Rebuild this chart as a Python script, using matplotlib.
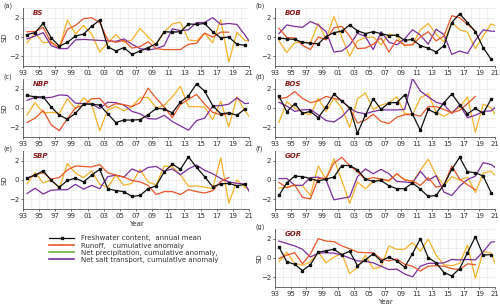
import numpy as np
import matplotlib
matplotlib.use("Agg")
import matplotlib.pyplot as plt
from matplotlib.lines import Line2D

panel_names = ["BS", "BOB", "NBP", "BOS", "SBP", "GOF", "GOR"]
panel_letters = ["(a)", "(b)", "(c)", "(d)", "(e)", "(f)", "(g)"]

fw_years = np.arange(1993.5, 2021.0, 1.0)      # 28 annual means
ro_years = np.arange(1993.5, 2019.0, 1.0)      # 26 values
ps_years = np.arange(1993.5, 2022.0, 1.0)      # 29 values

fw = {
    "BS":  [0.25, 0.45, 1.4, -0.1, -0.95, -0.55, 0.1, 0.3, 1.1, 1.75, -1.0, -1.45, -1.1, -1.8, -1.45, -1.1, -0.7, 0.55, 0.5, 0.55, 1.35, 1.3, 1.4, 0.55, -0.1, 0.0, -0.75, -0.85],
    "BOB": [-0.1, -0.2, -0.25, -0.55, -0.65, -0.7, 0.05, 0.45, 0.6, 1.25, 0.65, 0.35, 0.55, 0.35, 0.15, 0.2, -0.35, -0.25, -0.9, -1.15, -1.55, -0.9, 1.5, 2.4, 1.5, 0.55, -1.1, -2.3],
    "NBP": [1.3, 1.15, 1.15, 0.1, -0.75, -1.15, -0.55, 0.4, 0.4, 0.3, -0.6, -1.5, -1.25, -1.25, -1.2, -0.7, -0.05, -0.1, -0.5, 0.6, 1.25, 2.5, 1.75, 0.25, -0.6, -0.5, -0.75, -0.1],
    "BOS": [1.25, -0.4, 0.45, -0.55, -0.35, -1.0, 0.1, 1.45, 0.7, 0.05, -2.6, -0.75, 0.95, -0.15, 0.55, 0.55, 1.35, -0.65, -2.3, -0.15, -0.55, 0.55, 1.45, 0.35, -0.6, -0.05, -0.55, 0.9],
    "SBP": [0.2, 0.5, 0.95, -0.05, -0.75, -0.05, 0.2, -0.2, 0.5, 1.1, -0.9, -1.1, -1.2, -1.7, -1.6, -0.9, -0.6, 0.85, 1.65, 1.1, 2.4, 1.3, 0.35, -0.7, -0.4, -0.35, -0.6, -0.45],
    "GOF": [-1.6, -0.3, 0.4, 0.35, 0.15, -0.1, 0.1, 0.3, 1.5, 1.5, 1.05, 0.1, -0.15, -0.05, -0.6, -0.9, -0.9, -0.3, -0.95, -1.7, -1.6, -0.5, 1.1, 2.35, 0.85, 0.75, 0.4, -1.3],
    "GOR": [1.15, -0.4, -0.65, -1.3, -0.7, 0.6, 0.75, 0.9, 0.35, 0.7, -0.8, -0.2, 0.45, -0.3, 0.1, -0.3, -0.95, 0.45, 2.0, 0.05, -0.5, -1.5, -1.85, -1.1, 0.55, 2.2, 0.3, 0.35],
}
runoff = {
    "BS":  [0.55, 0.55, 1.0, -0.6, -1.1, 0.8, 1.2, 1.9, 2.0, 1.5, -0.3, -0.55, -0.35, -1.15, -1.0, -0.5, -1.2, -1.3, -1.3, -1.3, -0.75, -0.65, 0.4, 0.0, 0.5, 0.5],
    "BOB": [0.9, -0.05, -0.1, -0.85, -1.3, 0.0, -0.3, 0.95, 1.1, 0.1, -1.2, -1.15, -0.75, -0.1, -1.55, -0.3, -0.85, -0.8, 0.0, 0.55, -0.4, 0.1, 2.2, 2.0, 1.3, 0.6],
    "NBP": [-1.5, -1.05, -0.25, -1.75, -2.35, -1.1, 0.0, 0.3, 0.95, 1.0, 0.05, 0.45, 0.35, 0.15, 0.55, 2.05, 1.0, 0.1, -1.0, 0.35, 0.9, 1.4, 0.4, -0.45, -0.7, -0.6],
    "BOS": [0.95, 1.1, 1.7, 1.0, 0.55, 0.75, 1.2, 1.0, 0.8, -0.05, -1.55, -1.25, -0.65, -1.4, -1.6, -0.95, -0.7, -0.65, -0.85, 0.15, 0.15, -0.15, -0.5, -0.25, 0.45, 1.2],
    "SBP": [0.15, 0.55, 0.75, 0.1, 0.25, 1.05, 1.45, 1.4, 1.35, 1.6, 0.75, 0.5, 0.3, -0.05, -0.2, -0.55, -1.5, -1.2, -1.2, -1.5, -1.0, -1.2, -1.35, -1.1, -0.15, 0.25],
    "GOF": [-0.25, -0.8, -0.5, -1.8, -1.95, 0.15, 0.2, 1.75, 2.35, 1.5, 0.85, 0.05, 0.25, 0.1, -0.05, 0.65, 0.0, -0.1, -0.55, 0.25, -0.75, -0.55, 1.45, 0.1, -0.5, -1.0],
    "GOR": [-0.05, 0.3, 0.55, -0.6, 0.4, 2.0, 1.75, 1.7, 1.25, 0.95, 0.6, 0.55, 0.55, -0.1, -0.3, -0.1, -0.65, -0.85, -1.35, -0.85, -0.8, -0.85, -1.1, -1.2, -0.6, -0.7],
}
precip = {
    "BS":  [-0.6, 0.4, -0.6, -0.5, -1.1, 1.75, 0.3, 1.2, 0.3, -1.55, -0.6, 0.25, -0.55, -0.3, 0.9, 0.0, -0.8, 0.5, 1.35, 1.55, -0.3, -0.4, 0.4, -0.6, 1.8, -2.6, 0.5, -0.35, -0.45],
    "BOB": [-0.4, -1.6, -0.6, -0.5, -0.6, 1.4, -0.2, 2.1, 0.0, -2.0, -0.4, -0.05, 0.0, -0.8, 0.3, 0.1, -0.9, -0.8, 0.75, 1.4, 0.3, -0.5, 1.5, 0.75, 0.5, -1.2, 0.1, 1.35, 1.05],
    "NBP": [-0.7, 0.55, -0.5, -0.45, -0.55, 0.95, -0.1, 1.05, 0.4, -2.35, -0.2, 0.15, -0.3, 0.15, 1.05, 1.1, 0.0, 0.3, 1.15, 2.25, 0.15, 0.15, 0.1, -1.2, 0.7, -1.95, 1.15, -0.3, -1.4],
    "BOS": [-1.5, 0.65, 0.0, -0.45, -0.7, 1.0, -0.35, 1.0, 0.0, -2.0, 0.95, 1.55, -0.15, 0.3, 0.55, 1.15, -0.55, -0.7, 1.05, 1.5, -0.45, -0.85, -0.4, 0.05, 1.15, -2.5, 0.4, 0.0, -1.3],
    "SBP": [-0.4, 0.75, -0.3, 0.0, -0.85, 1.7, 0.7, 0.25, 0.95, -0.45, -0.75, 0.5, -0.55, -0.35, 1.1, -0.2, -0.5, 1.45, 1.35, 0.55, -0.65, -0.6, -0.75, -0.9, 2.3, -2.4, 0.0, -0.75, -1.25],
    "GOF": [-0.85, -0.75, -0.55, -0.6, -1.6, 1.45, 0.05, 2.2, -0.05, -2.4, -0.2, -0.9, -0.15, 0.1, -0.15, 0.65, 0.05, -0.2, 1.0, 2.15, 0.5, -0.55, 0.35, 0.0, 0.3, -1.3, 0.7, 0.9, 0.1],
    "GOR": [-0.4, 0.6, -0.55, -0.75, -0.4, 0.6, -0.5, 0.1, 0.45, -1.6, -1.0, 0.3, -1.1, -0.9, 1.25, 0.9, 0.9, 1.6, 0.7, 1.95, 0.3, -0.7, -0.8, -0.55, 1.35, -2.1, 0.7, 0.5, -1.6],
}
salt = {
    "BS":  [-0.2, 0.1, 0.45, -0.9, -1.2, -1.2, -0.3, -0.25, -0.3, -0.35, -0.4, -0.45, -0.2, -0.75, -1.2, -1.35, -1.2, -0.9, 0.85, 0.65, 0.75, 1.5, 1.5, 2.0, 1.3, 1.4, 1.3, 0.2, -1.0],
    "BOB": [0.35, 1.25, 1.1, 1.0, 1.6, 1.25, 0.55, -1.55, -1.45, -0.85, 0.4, 0.05, -1.3, 0.55, -0.55, -0.8, -0.2, 0.75, 0.2, -0.75, 0.8, 0.25, -1.8, -1.45, -1.7, -0.35, 0.75, 0.6, 0.6],
    "NBP": [0.8, 1.1, 1.05, 1.1, 1.35, 1.3, 0.5, 0.45, 0.4, -0.05, 0.6, 0.55, 0.3, -0.35, -0.6, -1.1, -1.15, -0.75, -1.4, -1.85, -2.3, -1.3, -1.05, 0.2, 0.25, 0.4, 1.05, 0.45, 0.55],
    "BOS": [0.6, 0.2, -0.35, -0.2, -0.15, -0.7, -1.3, -1.45, -0.9, -0.05, -0.45, -0.6, -0.35, -0.2, -0.2, -0.2, -0.15, 3.05, 1.75, 1.15, 0.6, 0.35, -0.55, 0.3, -1.0, -0.75, -0.35, -0.3, 0.4],
    "SBP": [-1.4, -0.85, -1.45, -1.05, -1.0, -1.0, -0.45, -0.95, -0.55, -0.9, 0.35, 0.5, 0.3, 1.15, 0.8, 1.3, 1.4, 0.9, 1.15, 0.55, 1.15, 1.55, 1.0, 0.65, 0.15, -0.2, -0.35, -0.4, -1.9],
    "GOF": [0.15, 0.15, -0.55, -0.55, 0.25, 0.3, 0.0, -2.05, -1.9, -1.75, 0.35, 1.15, 0.65, 1.1, 0.65, -0.15, -0.2, -0.3, 0.9, -0.05, 0.45, -1.25, -1.6, -0.65, 0.05, 0.4, 1.8, 1.6, 1.0],
    "GOR": [1.75, 1.5, 1.25, 0.9, 0.1, 0.5, 0.55, 0.5, 0.3, 0.0, -0.3, -0.35, -0.5, -0.85, -1.2, -1.15, -1.65, -1.95, -0.85, -0.55, -0.55, -0.5, -0.15, -0.2, -0.15, -0.2, 0.65, 1.65, 1.7],
}

xtick_years = list(range(1993, 2022, 2))
xtick_labels = [f"{y % 100:02d}" for y in xtick_years]
legend_labels = ["Freshwater content,  annual mean",
                 "Runoff,   cumulative anomaly",
                 "Net precipitation, cumulative anomaly,",
                 "Net salt transport, cumulative anomaly"]

C_FW = "#111111"
C_RO = "#e8572a"
C_PR = "#f5b12a"
C_SA = "#7b2e9c"
C_PR_LEG = "#6db33f"
C_NAME = "#8b1a1a"

plt.rcParams["font.family"] = ["DejaVu Sans"]
fig = plt.figure(figsize=(5.0, 3.07), dpi=100)

W, H = 500.0, 307.0
col_x = [(23, 249), (275, 495)]
row_y = [(8, 66), (79, 137), (151, 209), (229, 287)]
positions = [(0, 0), (1, 0), (0, 1), (1, 1), (0, 2), (1, 2), (1, 3)]

FS = 5.0
for k, name in enumerate(panel_names):
    c, r = positions[k]
    x0, x1 = col_x[c]
    y0, y1 = row_y[r]
    ax = fig.add_axes([x0 / W, 1 - y1 / H, (x1 - x0) / W, (y1 - y0) / H])
    ax.set_xlim(1993, 2021)
    ax.set_ylim(-3, 3)
    ax.set_xticks(xtick_years)
    ax.set_xticklabels(xtick_labels)
    ax.set_xticks(np.arange(1993, 2022, 1), minor=True)
    ax.set_yticks([-2, 0, 2])
    ax.set_yticks([-3, -1, 1, 3], minor=True)
    ax.grid(True, which="both", color="#e4e4e4", lw=0.4)
    ax.set_axisbelow(True)
    for s in ["top", "right"]:
        ax.spines[s].set_visible(False)
    for s in ["left", "bottom"]:
        ax.spines[s].set_color("#555555")
        ax.spines[s].set_linewidth(0.6)
    ax.tick_params(which="major", labelsize=FS, length=1.5, width=0.5,
                   pad=1.2, colors="#333333")
    ax.tick_params(which="minor", length=0)

    ax.plot(ps_years, precip[name], color=C_PR, lw=0.9, zorder=2)
    ax.plot(ps_years, salt[name], color=C_SA, lw=0.9, zorder=2)
    ax.plot(ro_years, runoff[name], color=C_RO, lw=0.9, zorder=3)
    ax.plot(fw_years, fw[name], color=C_FW, lw=0.9, marker="s",
            ms=1.8, zorder=4)

    ax.text(0.045, 0.88, name, transform=ax.transAxes, color=C_NAME,
            fontsize=FS, fontweight="bold", fontstyle="italic")
    fig.text((x0 - 20) / W, 1 - (y0 - 2) / H, panel_letters[k],
             fontsize=FS - 0.3, color="#333333", va="center")
    if c == 0 or name == "GOR":
        ax.set_ylabel("SD", fontsize=FS, labelpad=1 if c == 0 else -1,
                      color="#333333")
    if name in ("SBP", "GOR"):
        ax.set_xlabel("Year", fontsize=FS, labelpad=1.5, color="#333333")

# legend in the empty bottom-left cell
handles = [
    Line2D([], [], color=C_FW, lw=0.9, marker="s", ms=1.8),
    Line2D([], [], color=C_RO, lw=1.2),
    Line2D([], [], color=C_PR_LEG, lw=1.2),
    Line2D([], [], color=C_SA, lw=1.2),
]
fig.legend(handles, legend_labels, loc="upper left",
           bbox_to_anchor=(46 / W, 1 - 232 / H), frameon=False,
           fontsize=5.0, handlelength=3.6, handletextpad=1.0,
           labelspacing=0.15, borderpad=0, labelcolor="#333333")

fig.savefig("out.png", dpi=100)
